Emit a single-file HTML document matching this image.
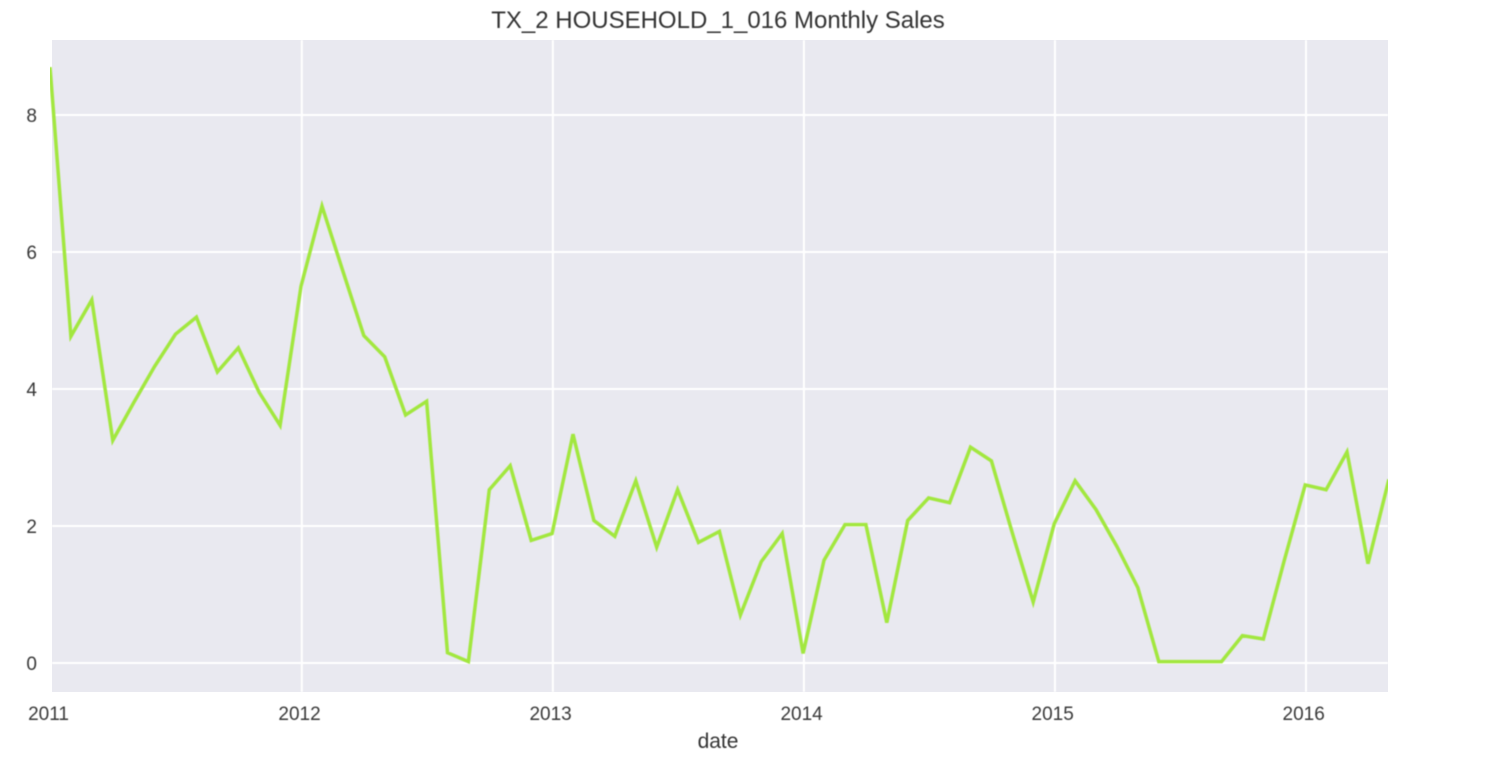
<!DOCTYPE html>
<html lang="en">
<head>
<meta charset="utf-8">
<title>TX_2 HOUSEHOLD_1_016 Monthly Sales</title>
<style>
  html, body { margin: 0; padding: 0; background: #ffffff; }
  #chart { display: block; width: 1490px; height: 778px; font-family: "Liberation Sans", sans-serif; }
  .soft { filter: blur(0.5px); }
  .soft-text { filter: blur(0.6px); }
</style>
</head>
<body>
<svg id="chart" xmlns="http://www.w3.org/2000/svg" width="1490" height="778" viewBox="0 0 1490 778">
  <defs>
    <clipPath id="plot-clip"><rect x="50" y="40" width="1338" height="652"></rect></clipPath>
  </defs>
  <rect x="52" y="40" width="1336" height="652" fill="#e9e9f0"></rect>
  <g id="grid" class="soft"></g>
  <g clip-path="url(#plot-clip)">
    <polyline id="series" class="soft" fill="none" stroke="#a2e73f" stroke-width="3.5" stroke-linejoin="miter"></polyline>
  </g>
  <g id="ticks" class="soft-text" fill="#383838" font-size="19"></g>
  <text class="soft-text" x="718" y="28" text-anchor="middle" font-size="24" fill="#333333">TX_2 HOUSEHOLD_1_016 Monthly Sales</text>
  <text class="soft-text" x="718" y="748" text-anchor="middle" font-size="21" fill="#333333">date</text>
</svg>
<script>
const months = [
  "2011-01","2011-02","2011-03","2011-04","2011-05","2011-06","2011-07","2011-08","2011-09","2011-10","2011-11","2011-12",
  "2012-01","2012-02","2012-03","2012-04","2012-05","2012-06","2012-07","2012-08","2012-09","2012-10","2012-11","2012-12",
  "2013-01","2013-02","2013-03","2013-04","2013-05","2013-06","2013-07","2013-08","2013-09","2013-10","2013-11","2013-12",
  "2014-01","2014-02","2014-03","2014-04","2014-05","2014-06","2014-07","2014-08","2014-09","2014-10","2014-11","2014-12",
  "2015-01","2015-02","2015-03","2015-04","2015-05","2015-06","2015-07","2015-08","2015-09","2015-10","2015-11","2015-12",
  "2016-01","2016-02","2016-03","2016-04","2016-05"
];
const sales = [
  8.70,4.77,5.30,3.25,3.80,4.33,4.80,5.05,4.25,4.60,3.95,3.47,
  5.50,6.67,5.72,4.78,4.47,3.62,3.82,0.15,0.02,2.53,2.88,1.79,
  1.89,3.34,2.08,1.85,2.66,1.69,2.53,1.76,1.92,0.70,1.48,1.89,
  0.14,1.50,2.02,2.02,0.59,2.08,2.41,2.34,3.15,2.95,1.90,0.89,
  2.03,2.66,2.24,1.70,1.10,0.02,0.02,0.02,0.02,0.40,0.35,1.50,
  2.60,2.53,3.08,1.45,2.68
];
const yearTicks = ["2011","2012","2013","2014","2015","2016"];
const valueTicks = [0,2,4,6,8];

const SVG_NS = "http://www.w3.org/2000/svg";
function monthIndex(label) {
  const parts = label.split("-");
  return (Number(parts[0]) - 2011) * 12 + (Number(parts[1]) - 1);
}
function xScale(index) { return 50 + index * 20.92; }
function yScale(value) { return 663 - value * 68.5; }

const grid = document.getElementById("grid");
const ticks = document.getElementById("ticks");

valueTicks.forEach(function (v) {
  const line = document.createElementNS(SVG_NS, "line");
  
  
  line.setAttribute("x1", 52);
  line.setAttribute("x2", 1388);
  line.setAttribute("y1", yScale(v));
  line.setAttribute("y2", yScale(v));
  line.setAttribute("stroke", "#ffffff");
  line.setAttribute("stroke-width", "2");
  grid.appendChild(line);

  const label = document.createElementNS(SVG_NS, "text");
  
  
  label.setAttribute("x", 37);
  label.setAttribute("y", yScale(v) + 7);
  label.setAttribute("text-anchor", "end");
  label.textContent = String(v);
  ticks.appendChild(label);
});

yearTicks.forEach(function (year, i) {
  const x = xScale(monthIndex(year + "-01"));
  if (i > 0) {
    const line = document.createElementNS(SVG_NS, "line");
    
    
    line.setAttribute("x1", x + 0.8);
    line.setAttribute("x2", x + 0.8);
    line.setAttribute("y1", 40);
    line.setAttribute("y2", 692);
    line.setAttribute("stroke", "#ffffff");
    line.setAttribute("stroke-width", "2");
    grid.appendChild(line);
  }
  const label = document.createElementNS(SVG_NS, "text");
  
  
  label.setAttribute("x", x - 1.5);
  label.setAttribute("y", 720);
  label.setAttribute("text-anchor", "middle");
  label.textContent = year;
  ticks.appendChild(label);
});

const points = sales.map(function (v, i) {
  return xScale(monthIndex(months[i])).toFixed(1) + "," + yScale(v).toFixed(1);
}).join(" ");
document.getElementById("series").setAttribute("points", points);
</script>
</body>
</html>
